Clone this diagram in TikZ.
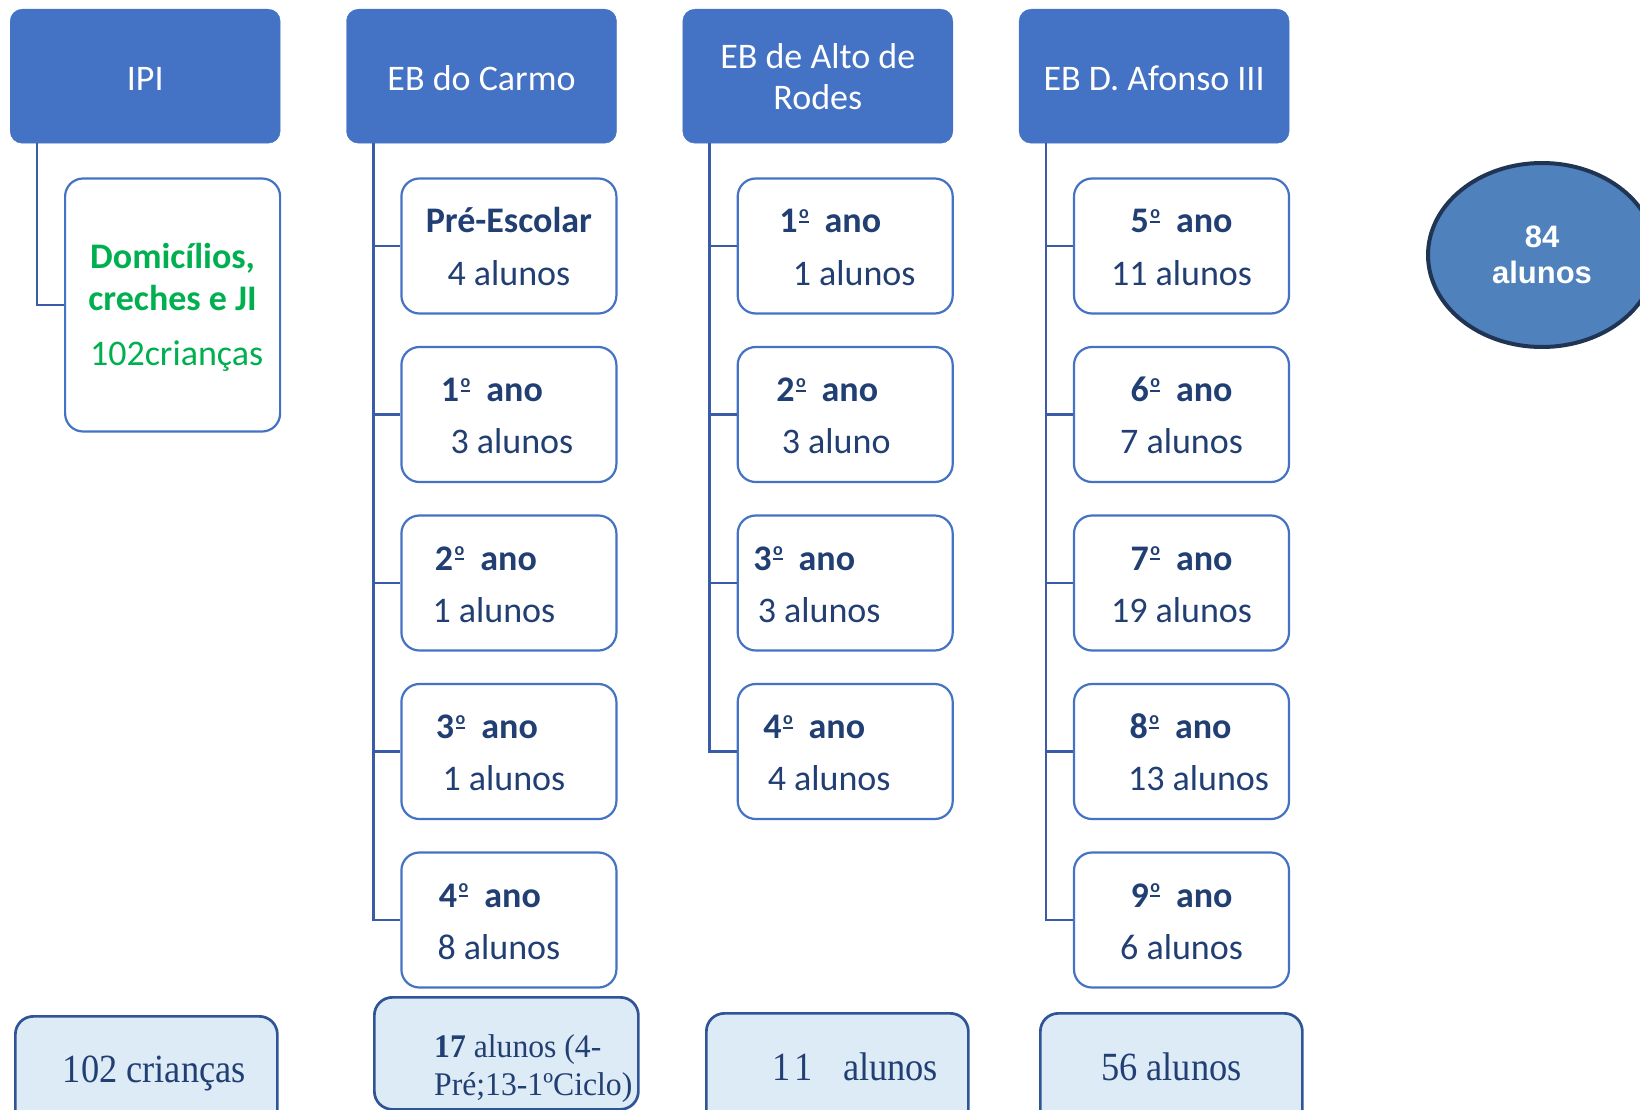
\documentclass[tikz,border=0pt]{standalone}
\usepackage{fontspec}
\setmainfont{Carlito}
\newfontfamily\timesfont[FakeStretch=0.91]{Liberation Serif}
\newfontfamily\timesnarrow[FakeStretch=0.96]{Liberation Serif}
\newfontfamily\arialfont{Liberation Sans}
\usepackage{xcolor}
\usetikzlibrary{calc, shapes.geometric}

\definecolor{hdrblue}{HTML}{4472C4}
\definecolor{lineblue}{HTML}{3A5CA8}
\definecolor{sumblue}{HTML}{2F5597}
\definecolor{navytext}{HTML}{213F73}
\definecolor{paleblue}{HTML}{DDEBF7}
\definecolor{okgreen}{HTML}{00B050}
\definecolor{discblue}{HTML}{4F81BD}
\definecolor{discrim}{HTML}{1F3553}

% underlined ordinal o
\newcommand{\ordo}{\kern1.5pt\raisebox{10pt}{\fontsize{18}{18}\selectfont\rlap{\rule{\fontcharwd\font`o}{2pt}}\raisebox{4.3pt}{o}}\kern16pt}

\begin{document}
\begin{tikzpicture}[x=1pt,y=-1pt]
	\tikzstyle{school}=[fill=hdrblue, draw=hdrblue, rounded corners=12pt, text=white, align=center, minimum width=270pt, minimum height=134pt, inner sep=0pt, anchor=north west, font=\fontsize{36}{41}\selectfont]
	\tikzstyle{oneline}=[text height=28pt, text depth=0pt]
	\tikzstyle{grade}=[draw=hdrblue, line width=2.2pt, fill=white, rounded corners=18pt, minimum width=215pt, minimum height=135pt, inner sep=0pt, anchor=north west]
	\tikzstyle{gradetxt}=[text=navytext, anchor=base, inner sep=0pt, font=\fontsize{36}{41}\selectfont]
	\tikzstyle{branch}=[draw=lineblue, line width=2.7pt]
	\tikzstyle{total}=[draw=sumblue, line width=2.7pt, fill=paleblue, rounded corners=18pt, minimum width=262pt, inner sep=0pt, anchor=north west]
	\tikzstyle{totaltxt}=[text=navytext, anchor=base, inner sep=0pt, font=\timesfont\fontsize{40}{40}\selectfont]
	\def\col{336.3};
	\def\gap{168.5};
	\def\drop{27};
	% name, school, row, title, count, shift of title, shift of count
	\def\grade#1#2#3#4#5#6#7{
		\node [grade] (#1) at ($ (#2.south west) + (54,34+#3*\gap) $) {};
		\node [gradetxt] (#1t) at ($ (#1.center) + (#6,-13) $) {\textbf{#4}};
		\node [gradetxt] (#1n) at ($ (#1.center) + (#7,39) $) {#5};
		\draw [branch] ($ (#2.south west) + (\drop,0) $) |- (#1.west);
	}

	\useasboundingbox (0,0) rectangle (1640,1110);
	\clip (0,0) rectangle (1640,1110);

	\begin{scope}
		\node [school, oneline] (ipi) at (10,9) {IPI};
		\node [school, oneline] (carmo) at (10+\col,9) {EB do Carmo};
		\node [school] (rodes) at (10+2*\col,9) {EB de Alto de\\Rodes};
		\node [school, oneline] (afonso) at (10+3*\col,9) {EB D. Afonso III};
	\end{scope}

	\begin{scope}
		\node [grade, minimum height=253pt] (ipikids) at ($ (ipi.south west) + (54,34) $) {};
		\node [gradetxt, text=okgreen] (ipikids1) at ($ (ipikids.center) + (0,-37) $) {\textbf{Domicílios,}};
		\node [gradetxt, text=okgreen] (ipikids2) at ($ (ipikids.center) + (0,5) $) {\textbf{creches e JI}};
		\node [gradetxt, text=okgreen] (ipikids3) at ($ (ipikids.center) + (4,60) $) {102crianças};
		\draw [branch] ($ (ipi.south west) + (\drop,0) $) |- (ipikids.west);
	\end{scope}

	\begin{scope}
		\grade{carmo0}{carmo}{0}{Pré-Escolar}{4 alunos}{0}{0}
		\grade{carmo1}{carmo}{1}{1\ordo ano}{3 alunos}{-17}{3}
		\grade{carmo2}{carmo}{2}{2\ordo ano}{1 alunos}{-23}{-15}
		\grade{carmo3}{carmo}{3}{3\ordo ano}{1 alunos}{-22}{-5}
		\grade{carmo4}{carmo}{4}{4\ordo ano}{8 alunos}{-19}{-10}
	\end{scope}

	\begin{scope}
		\grade{rodes1}{rodes}{0}{1\ordo ano}{1 alunos}{-15}{9}
		\grade{rodes2}{rodes}{1}{2\ordo ano}{3 aluno}{-18}{-9}
		\grade{rodes3}{rodes}{2}{3\ordo ano}{3 alunos}{-41}{-26}
		\grade{rodes4}{rodes}{3}{4\ordo ano}{4 alunos}{-31}{-16}
	\end{scope}

	\begin{scope}
		\grade{afonso5}{afonso}{0}{5\ordo ano}{11 alunos}{0}{0}
		\grade{afonso6}{afonso}{1}{6\ordo ano}{7 alunos}{0}{0}
		\grade{afonso7}{afonso}{2}{7\ordo ano}{19 alunos}{0}{0}
		\grade{afonso8}{afonso}{3}{8\ordo ano}{13 alunos}{-1}{17}
		\grade{afonso9}{afonso}{4}{9\ordo ano}{6 alunos}{0}{0}
	\end{scope}

	\begin{scope}
		\node [total, minimum height=130pt] (ipisum) at (14,1015) {};
		\node [totaltxt] (ipisumt) at ($ (ipisum.north) + (8,67) $) {102 crianças};

		\node [total, minimum height=112pt, minimum width=264pt] (carmosum) at (373,996) {};
		\node [totaltxt, anchor=base west, font=\timesnarrow\fontsize{33}{36}\selectfont] (carmosum1) at ($ (carmosum.north west) + (61,61) $) {\textbf{17} alunos (4-};
		\node [totaltxt, anchor=base west, font=\timesnarrow\fontsize{33}{36}\selectfont] (carmosum2) at ($ (carmosum.north west) + (61,99) $) {Pré;13-1ºCiclo)};

		\node [total, minimum height=130pt] (rodessum) at (705,1012) {};
		\node [totaltxt] (rodessumt) at ($ (rodessum.north) + (18,68) $) {1\kern4pt1\hspace{30pt}alunos};

		\node [total, minimum height=130pt] (afonsosum) at (1039,1012) {};
		\node [totaltxt] (afonsosumt) at ($ (afonsosum.north) + (0,68) $) {56 alunos};
	\end{scope}

	\begin{scope}
		\node [ellipse, draw=discrim, line width=4pt, fill=discblue, minimum width=228pt, minimum height=184pt, inner sep=0pt, text=white, align=center, font=\arialfont\bfseries\fontsize{31}{36}\selectfont] (alltotal) at (1542,255) {84\\alunos};
	\end{scope}
\end{tikzpicture}
\end{document}
